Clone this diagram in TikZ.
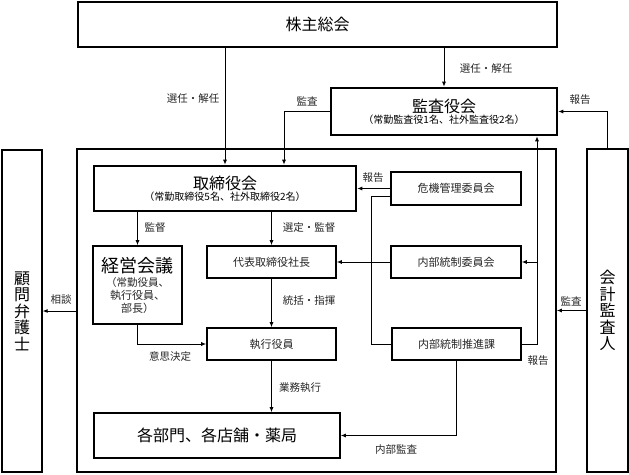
\documentclass[tikz,border=0pt]{standalone}
\usepackage{fontspec}
\setmainfont{Noto Sans CJK JP}
\usetikzlibrary{arrows.meta,calc}
\begin{document}
\begin{tikzpicture}[x=1pt,y=-1pt,
  box/.style={draw,line width=1.6pt,inner sep=0pt,align=center,font=\fontsize{11}{13}\selectfont,text=black!85},
  thickbox/.style={draw,line width=2.6pt,inner sep=0pt,align=center},
  sidebox/.style={draw,line width=1.3pt,inner sep=0pt,align=center,font=\fontsize{16}{16.5}\selectfont},
  conn/.style={line width=0.9pt},
  arr/.style={conn,-{Latex[length=5pt,width=4pt]}},
  lbl/.style={inner sep=0pt,font=\fontsize{10.5}{12}\selectfont,text=black!85},
  big/.style={font=\fontsize{16}{18}\selectfont},
]
\useasboundingbox (0,0) rectangle (629,474);

% outer frame
\node[box,minimum width=479pt,minimum height=323pt] (outer) at (316.5,310.5) {};

% top level
\node[thickbox,big,minimum width=479pt,minimum height=45pt] (kabu) at (317.5,24.5) {株主総会};
\node[thickbox,minimum width=226pt,minimum height=47pt] (kansa) at (444,111.5)
  {\fontsize{16}{18}\selectfont 監査役会\\[-1pt]\fontsize{10}{12}\selectfont （常勤監査役1名、社外監査役2名）};
\node[thickbox,minimum width=262pt,minimum height=45pt] (tori) at (225,188.5)
  {\fontsize{16}{18}\selectfont 取締役会\\[-1pt]\fontsize{10}{12}\selectfont （常勤取締役5名、社外取締役2名）};

% inner boxes
\node[box,minimum width=89pt,minimum height=78pt] (keiei) at (137.5,285)
  {\fontsize{18}{20}\selectfont\color{black} 経営会議\\[1pt]\fontsize{10.5}{12.5}\selectfont （常勤役員、\\執行役員、\\部長）};
\node[box,minimum width=129pt,minimum height=32pt] (daihyo) at (271.5,262) {代表取締役社長};
\node[box,minimum width=129pt,minimum height=32pt] (shikko) at (271.5,344) {執行役員};
\node[box,big,text=black,minimum width=246pt,minimum height=45pt] (kakubu) at (217,435.5) {各部門、各店舗・薬局};
\node[box,minimum width=130pt,minimum height=33pt] (kiki) at (456,188.5) {危機管理委員会};
\node[box,minimum width=130pt,minimum height=32pt] (naibu) at (456,262) {内部統制委員会};
\node[box,minimum width=129pt,minimum height=32pt] (suishin) at (456.5,344) {内部統制推進課};

% side boxes
\node[sidebox,minimum width=40pt,minimum height=322pt] (bengoshi) at (22,311) {顧\\問\\弁\\護\\士};
\node[sidebox,minimum width=41pt,minimum height=323pt] (kaikei) at (607.5,310.5) {会\\計\\監\\査\\人};

% helper coordinates
\coordinate (cA) at (284,0);
\coordinate (cR) at (537,0);
\coordinate (cL) at (371,0);

% connectors
\draw[arr] (kabu.south -| tori.north) -- (tori.north);
\draw[arr] (kabu.south -| kansa.north) -- (kansa.north);
\draw[arr] (kansa.west) -| (cA |- tori.north);
\draw[arr] (kaikei.north) |- (kansa.east);
\draw[arr] (suishin.east) -| (cR |- kansa.south);
\draw[arr] (cR |- naibu.east) -- (naibu.east);
\draw[arr] (kaikei.west) -- (outer.east |- kaikei.west);
\draw[arr] (outer.west |- bengoshi.east) -- (bengoshi.east);
\draw[arr] (kiki.west) -- (kiki.west -| tori.east);
\draw[conn] ($(kiki.west)+(0,8)$) -| (cL |- suishin.west) -- (suishin.west);
\draw[arr] (naibu.west) -- (daihyo.east);
\draw[arr] (tori.south -| keiei.north) -- (keiei.north);
\draw[arr] (tori.south -| daihyo.north) -- (daihyo.north);
\draw[arr] (daihyo.south) -- (shikko.north);
\draw[arr] (keiei.south) |- (shikko.west);
\draw[arr] (shikko.south) -- (shikko.south |- kakubu.north);
\draw[arr] (suishin.south) |- (kakubu.east);

% labels
\node[lbl] (l1) at (193,99) {選任・解任};
\node[lbl] (l2) at (486,69) {選任・解任};
\node[lbl] (l3) at (307,101) {監査};
\node[lbl] (l4) at (580,100) {報告};
\node[lbl] (l5) at (373,178) {報告};
\node[lbl] (l6) at (155,228) {監督};
\node[lbl] (l7) at (309,228) {選定・監督};
\node[lbl] (l8) at (309,301) {統括・指揮};
\node[lbl] (l9) at (61,300) {相談};
\node[lbl] (l10) at (571,301) {監査};
\node[lbl] (l11) at (170,357) {意思決定};
\node[lbl] (l12) at (538,361) {報告};
\node[lbl] (l13) at (300,388) {業務執行};
\node[lbl] (l14) at (396,450) {内部監査};
\end{tikzpicture}
\end{document}
